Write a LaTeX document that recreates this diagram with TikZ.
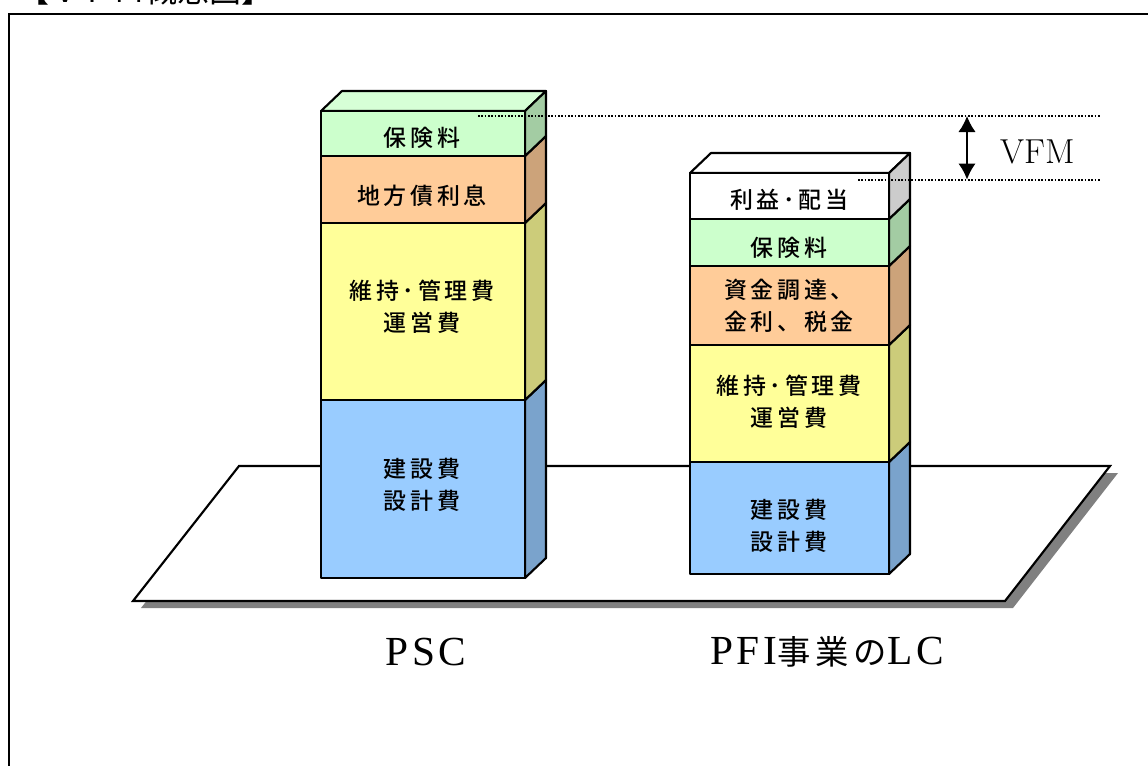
\documentclass[tikz,border=0pt]{standalone}
\usepackage{fontspec}
\usetikzlibrary{arrows.meta}
\newfontfamily\jpf[LetterSpace=16]{Noto Sans CJK JP Medium}
\newfontfamily\jpt{Noto Sans CJK JP}
\newfontfamily\lab[LetterSpace=9]{Liberation Serif}
\newfontfamily\labj[LetterSpace=15]{Noto Sans CJK JP}
\tikzset{
 pxs/.style={x=0.75pt,y=-0.75pt},
 seg/.style={draw=black,line width=1.6pt,line join=round},
 lbl/.style={font=\jpf\fontsize{17.2}{24}\selectfont,align=center,inner sep=0pt,text=black},
 dots/.style={line width=1.5pt,dash pattern=on 1.3pt off 1.2pt,black},
 capt/.style={font=\lab\fontsize{31}{34}\selectfont,inner sep=0pt}
}
% #1 x-left, #2 x-right, #3 y-top, #4 y-bottom, #5 front, #6 side
\newcommand{\blockseg}[6]{%
 \path[seg,fill=#6] (#2,#3) -- ++(21,-20) -- (#2+21,#4-20) -- (#2,#4) -- cycle;
 \path[seg,fill=#5] (#1,#3) rectangle (#2,#4);
}
\definecolor{cgreen}{HTML}{CCFFCC}\definecolor{sgreen}{HTML}{A3CCA3}
\definecolor{corange}{HTML}{FFCC99}\definecolor{sorange}{HTML}{CCA37A}
\definecolor{cyellow}{HTML}{FFFF99}\definecolor{syellow}{HTML}{CCCC7A}
\definecolor{cblue}{HTML}{99CCFF}\definecolor{sblue}{HTML}{7AA3CC}
\definecolor{sgrey}{HTML}{CCCCCC}\definecolor{tgreen}{HTML}{D6FFD6}
\definecolor{shadowc}{HTML}{808080}
\begin{document}
\begin{tikzpicture}[pxs]
\useasboundingbox (0,0) rectangle (1148,765);
\begin{scope}
\clip (0,0) rectangle (1148,765);
\node[font=\jpt\fontsize{24}{28}\selectfont,inner sep=0pt] (title) at (145,-10) {【ＶＦＭ概念図】};
\coordinate (fa) at (9,800);\coordinate (fb) at (9,14);\coordinate (fc) at (1160,14);
\draw[line width=1.7pt] (fa) -- (fb) -- (fc);
\end{scope}
% floor
\fill[shadowc] (247,473) -- (1118,473) -- (1013,608) -- (141,608) -- cycle;
\path[draw=black,line width=1.6pt,fill=white] (239,466) -- (1110,466) -- (1005,601) -- (133,601) -- cycle;
% PSC
\path[seg,fill=tgreen] (321,111) -- (342,91) -- (546,91) -- (525,111) -- cycle;
\blockseg{321}{525}{400}{578}{cblue}{sblue}
\blockseg{321}{525}{223}{400}{cyellow}{syellow}
\blockseg{321}{525}{156}{223}{corange}{sorange}
\blockseg{321}{525}{111}{156}{cgreen}{sgreen}
% PFI
\path[seg,fill=white] (690,173) -- (711,153) -- (910,153) -- (889,173) -- cycle;
\blockseg{690}{889}{462}{574}{cblue}{sblue}
\blockseg{690}{889}{345}{462}{cyellow}{syellow}
\blockseg{690}{889}{266}{345}{corange}{sorange}
\blockseg{690}{889}{219}{266}{cgreen}{sgreen}
\blockseg{690}{889}{173}{219}{white}{sgrey}
% labels
\node[lbl] (a1) at (422,138) {保険料};
\node[lbl] (a2) at (422,196) {地方債利息};
\node[lbl] (a3) at (422,307) {維持･管理費\\運営費};
\node[lbl] (a4) at (422,485) {建設費\\設計費};
\node[lbl] (b1) at (789,200) {利益･配当};
\node[lbl] (b2) at (789,248) {保険料};
\node[lbl] (b3) at (789,306) {資金調達、\\金利、税金};
\node[lbl] (b4) at (789,402) {維持･管理費\\運営費};
\node[lbl] (b5) at (789,526) {建設費\\設計費};
% dimension
\coordinate (d1) at (478,115.5);\coordinate (d2) at (1100,115.5);
\coordinate (d3) at (858,179.5);\coordinate (d4) at (1100,179.5);
\coordinate (e1) at (967,116);\coordinate (e2) at (967,179.5);
\draw[dots] (d1) -- (d2);
\draw[dots] (d3) -- (d4);
\draw[line width=1.2pt,{Latex[length=12pt,width=13pt]}-{Latex[length=12pt,width=13pt]}] (e1) -- (e2);
\node[inner sep=0pt,font=\fontsize{26}{28}\selectfont] (vfm) at (1037.5,152) {VFM};
\node[capt] (psc) at (426,652) {PSC};
\node[capt] (pfi) at (827,652) {PFI{\labj\fontsize{25}{28}\selectfont 事業の}LC};
\end{tikzpicture}
\end{document}
